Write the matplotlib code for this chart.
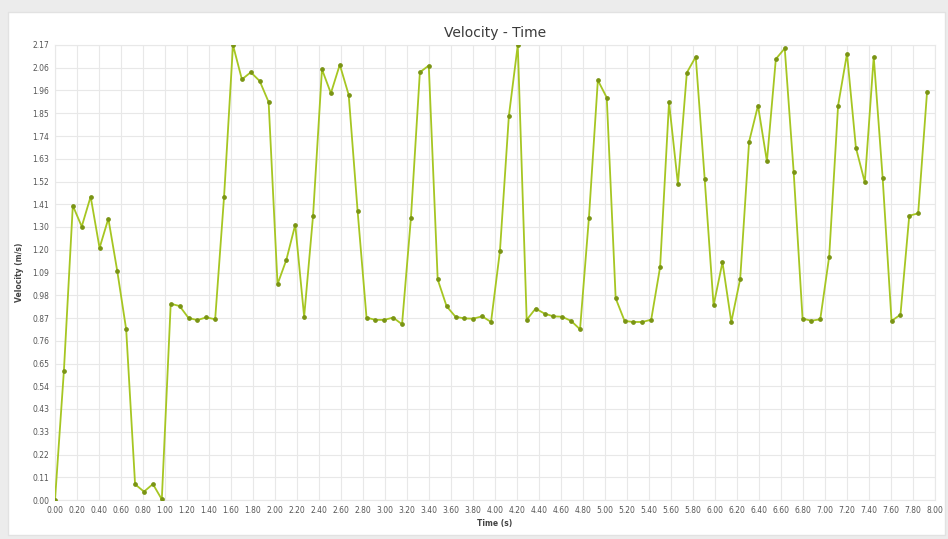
import matplotlib
matplotlib.use("Agg")
import matplotlib.pyplot as plt
from matplotlib.patches import Rectangle

# time of each sample (s)
time_s = [0.000, 0.081, 0.162, 0.243, 0.324, 0.405, 0.485, 0.566, 0.647, 0.728,
          0.809, 0.890, 0.971, 1.052, 1.133, 1.214, 1.294, 1.375, 1.456, 1.537,
          1.618, 1.699, 1.780, 1.861, 1.942, 2.023, 2.103, 2.184, 2.265, 2.346,
          2.427, 2.508, 2.589, 2.670, 2.751, 2.832, 2.912, 2.993, 3.074, 3.155,
          3.236, 3.317, 3.398, 3.479, 3.560, 3.641, 3.721, 3.802, 3.883, 3.964,
          4.045, 4.126, 4.207, 4.288, 4.369, 4.450, 4.530, 4.611, 4.692, 4.773,
          4.854, 4.935, 5.016, 5.097, 5.178, 5.259, 5.339, 5.420, 5.501, 5.582,
          5.663, 5.744, 5.825, 5.906, 5.987, 6.068, 6.148, 6.229, 6.310, 6.391,
          6.472, 6.553, 6.634, 6.715, 6.796, 6.877, 6.957, 7.038, 7.119, 7.200,
          7.281, 7.362, 7.443, 7.524, 7.605, 7.686, 7.766, 7.847, 7.928]

# velocity (m/s)
velocity = [0.000, 0.617, 1.404, 1.304, 1.447, 1.202, 1.342, 1.092, 0.814, 0.075,
            0.040, 0.076, 0.003, 0.936, 0.925, 0.868, 0.858, 0.871, 0.862, 1.447,
            2.170, 2.006, 2.040, 1.998, 1.898, 1.029, 1.145, 1.313, 0.874, 1.356,
            2.054, 1.940, 2.076, 1.932, 1.378, 0.870, 0.859, 0.859, 0.870, 0.838,
            1.347, 2.040, 2.072, 1.052, 0.924, 0.874, 0.866, 0.865, 0.876, 0.849,
            1.188, 1.831, 2.170, 0.859, 0.913, 0.889, 0.876, 0.874, 0.854, 0.814,
            1.347, 2.002, 1.919, 0.962, 0.854, 0.849, 0.849, 0.860, 1.111, 1.897,
            1.507, 2.038, 2.114, 1.533, 0.928, 1.134, 0.849, 1.054, 1.709, 1.881,
            1.615, 2.103, 2.154, 1.566, 0.865, 0.855, 0.862, 1.161, 1.881, 2.129,
            1.680, 1.515, 2.114, 1.537, 0.854, 0.884, 1.356, 1.367, 1.948]

x_ticks = [i / 5 for i in range(41)]
x_labels = ["%.2f" % v for v in x_ticks]
y_ticks = [2.17 * i / 20 for i in range(21)]
y_labels = ["0.00", "0.11", "0.22", "0.33", "0.43", "0.54", "0.65", "0.76", "0.87", "0.98",
            "1.09", "1.20", "1.30", "1.41", "1.52", "1.63", "1.74", "1.85", "1.96", "2.06", "2.17"]

fig = plt.figure(figsize=(9.48, 5.39), dpi=100, facecolor="#ececec")
fig.patches.append(Rectangle((8 / 948, 4 / 539), 937 / 948, 523 / 539,
                             transform=fig.transFigure, facecolor="white",
                             edgecolor="#e2e2e2", linewidth=1, zorder=-5))

ax = fig.add_axes([55 / 948, 39 / 539, 880 / 948, 455 / 539])
ax.set_zorder(2)
ax.set_facecolor("white")
ax.plot(time_s, velocity, color="#a6c622", linewidth=1.3,
        marker="o", markersize=2.4, markerfacecolor="#7a9414",
        markeredgecolor="#7a9414", zorder=3)

ax.set_xlim(0, 8)
ax.set_ylim(0, 2.17)
ax.set_xticks(x_ticks)
ax.set_xticklabels(x_labels)
ax.set_yticks(y_ticks)
ax.set_yticklabels(y_labels)
ax.tick_params(axis="both", length=0, labelsize=5.5, labelcolor="#555555", pad=4)
ax.grid(True, color="#e8e8e8", linewidth=0.8)
for s in ax.spines.values():
    s.set_color("#e8e8e8")
    s.set_linewidth(0.8)

ax.set_title("Velocity - Time", fontsize=10, color="#3a3a3a", pad=6)
ax.set_xlabel("Time (s)", fontsize=5.5, fontweight="bold", color="#444444", labelpad=3)
ax.set_ylabel("Velocity (m/s)", fontsize=5.5, fontweight="bold", color="#444444", labelpad=6)

fig.savefig("out.png", dpi=100, facecolor=fig.get_facecolor())
